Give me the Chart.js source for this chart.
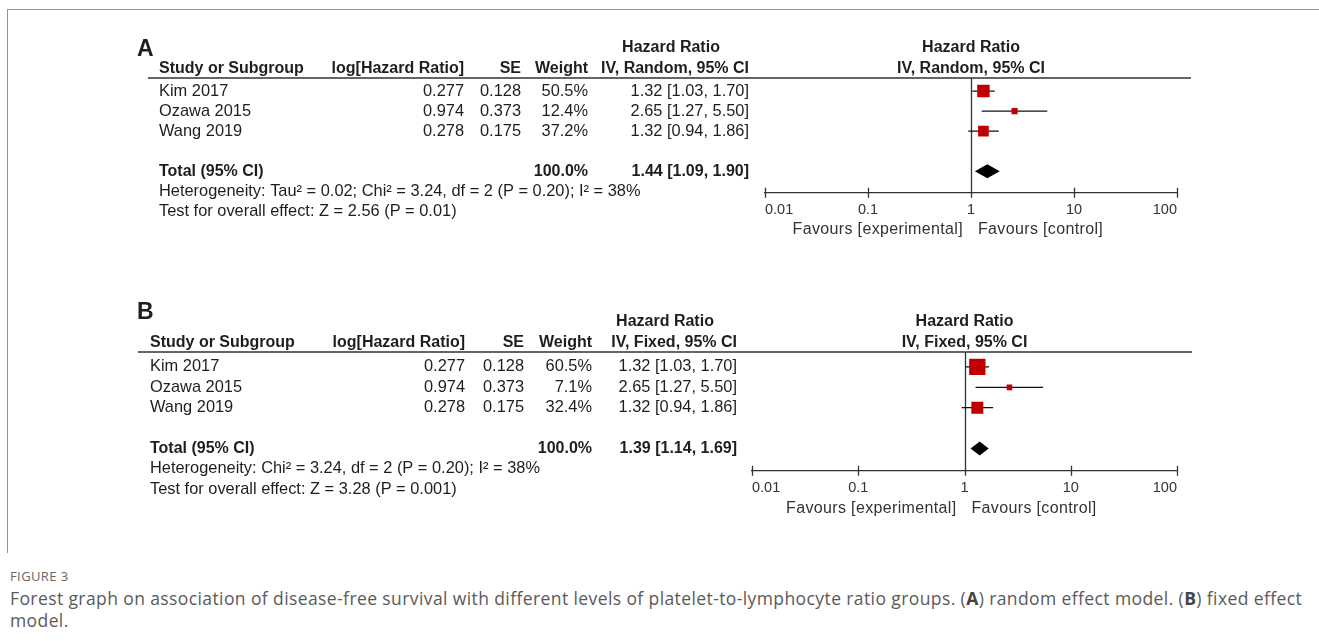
<!DOCTYPE html>
<html>
<head>
<meta charset="utf-8">
<script src="https://cdn.jsdelivr.net/npm/chart.js@4.4.1/dist/chart.umd.min.js"></script>
<style>
    body { margin: 0; background: #fff; width: 1319px; height: 641px; overflow: hidden; position: relative; }
    #frame { position: absolute; left: 7px; top: 9px; width: 1312px; height: 543px; border-left: 1px solid #929292; border-top: 1px solid #929292; }
    canvas { position: absolute; left: 0; }
    #figNo { position: absolute; left: 10px; top: 567px; font: 13px/18px "Open Sans", sans-serif; color: #666; letter-spacing: 0.4px; }
    #caption { position: absolute; left: 10px; top: 587px; font: 17.5px/22px "Open Sans", sans-serif; color: #5a5a5a; letter-spacing: 0.4px; white-space: nowrap; }
    #caption b { font-weight: 700; color: #444; }
</style>
</head>
<body>
<div id="frame"></div>
<canvas id="chartA" width="1319" height="268" style="top:0"></canvas>
<canvas id="chartB" width="1319" height="275" style="top:270px"></canvas>
<div id="figNo">FIGURE 3</div>
<div id="caption">Forest graph on association of disease-free survival with different levels of platelet-to-lymphocyte ratio groups. (<b>A</b>) random effect model. (<b>B</b>) fixed effect<br>model.</div>

<script>
// forest plots, panel A (random) and B (fixed)

const studies = ['Kim 2017', 'Ozawa 2015', 'Wang 2019'];
const logHR = ['0.277', '0.974', '0.278'];
const seValues = ['0.128', '0.373', '0.175'];
const hrEst = [1.32, 2.65, 1.32];
const ciLow = [1.03, 1.27, 0.94];
const ciHigh = [1.70, 5.50, 1.86];

const weightsRandom = [50.5, 12.4, 37.2];
const weightsFixed = [60.5, 7.1, 32.4];

// [estimate, lower, upper]
const totalRandom = [1.44, 1.09, 1.90];
const totalFixed = [1.39, 1.14, 1.69];

const hetRandom = 'Heterogeneity: Tau\u00b2 = 0.02; Chi\u00b2 = 3.24, df = 2 (P = 0.20); I\u00b2 = 38%';
const hetFixed = 'Heterogeneity: Chi\u00b2 = 3.24, df = 2 (P = 0.20); I\u00b2 = 38%';
const testRandom = 'Test for overall effect: Z = 2.56 (P = 0.01)';
const testFixed = 'Test for overall effect: Z = 3.28 (P = 0.001)';

const tickValues = [0.01, 0.1, 1, 10, 100];
const tickLabels = ['0.01', '0.1', '1', '10', '100'];

const FONT = '"Liberation Sans", Arial, sans-serif';
const TEXT = '#1e1e1e';
const LINE = '#333';
const TICK_SIZE = 14.5;
const TICK_PAD = 8.3;
const AXIS_H = TICK_PAD + TICK_SIZE * 1.2;

function ciText(est, lo, hi) {
    return `${est.toFixed(2)} [${lo.toFixed(2)}, ${hi.toFixed(2)}]`;
}

function forestPlugin(p) {
    return {
        id: 'forest' + p.letter,
        beforeDatasetsDraw(chart) {
            const ctx = chart.ctx;
            const xs = chart.scales.x;
            const area = chart.chartArea;
            ctx.save();
            ctx.strokeStyle = LINE;
            ctx.lineWidth = 1.3;
            // header rule
            ctx.beginPath();
            ctx.moveTo(p.ruleLeft, area.top);
            ctx.lineTo(p.ruleRight, area.top);
            // line of no effect
            const x1 = Math.round(xs.getPixelForValue(1)) + 0.5;
            ctx.moveTo(x1, area.top);
            ctx.lineTo(x1, area.bottom);
            // tick marks
            xs.ticks.forEach(t => {
                const tx = Math.round(xs.getPixelForValue(t.value)) + 0.5;
                ctx.moveTo(tx, area.bottom - 5);
                ctx.lineTo(tx, area.bottom + 5);
            });
            ctx.stroke();
            ctx.restore();
        },
        afterDatasetsDraw(chart) {
            const ctx = chart.ctx;
            const xs = chart.scales.x;
            const ys = chart.scales.y;
            const area = chart.chartArea;
            const top = area.top;

            // pooled diamond
            const yc = ys.getPixelForValue(p.totalRow);
            const half = 7;
            ctx.save();
            ctx.fillStyle = '#000';
            ctx.beginPath();
            ctx.moveTo(xs.getPixelForValue(p.total[1]), yc);
            ctx.lineTo(xs.getPixelForValue(p.total[0]), yc - half);
            ctx.lineTo(xs.getPixelForValue(p.total[2]), yc);
            ctx.lineTo(xs.getPixelForValue(p.total[0]), yc + half);
            ctx.closePath();
            ctx.fill();

            const put = (str, x, y, align, font) => {
                ctx.font = font;
                ctx.textAlign = align;
                ctx.fillText(str, x, y);
            };
            const bold = 'bold 16px ' + FONT;
            const reg = '16.4px ' + FONT;
            ctx.fillStyle = TEXT;
            ctx.textBaseline = 'middle';

            put(p.letter, p.letterX, top + p.letterDy, 'left', 'bold 23px ' + FONT);

            // header rows
            const h1 = top - 30, h2 = top - 9;
            const c = p.col;
            put('Hazard Ratio', c.hr, h1, 'center', bold);
            put('Study or Subgroup', c.study, h2, 'left', bold);
            put('log[Hazard Ratio]', c.logHR, h2, 'right', bold);
            put('SE', c.se, h2, 'right', bold);
            put('Weight', c.weight, h2, 'right', bold);
            put(p.method, c.ci, h2, 'right', bold);
            const mid = (area.left + area.right) / 2;
            put('Hazard Ratio', mid, h1, 'center', bold);
            put(p.method, mid, h2, 'center', bold);

            // study rows
            studies.forEach((s, i) => {
                const y = ys.getPixelForValue(p.rows[i]);
                put(s, c.study, y, 'left', reg);
                put(logHR[i], c.logHR, y, 'right', reg);
                put(seValues[i], c.se, y, 'right', reg);
                put(p.weights[i].toFixed(1) + '%', c.weight, y, 'right', reg);
                put(ciText(hrEst[i], ciLow[i], ciHigh[i]), c.ci, y, 'right', reg);
            });

            // total + footnotes
            put('Total (95% CI)', c.study, yc, 'left', bold);
            put('100.0%', c.weight, yc, 'right', bold);
            put(ciText(p.total[0], p.total[1], p.total[2]), c.ci, yc, 'right', bold);
            put(p.het, c.study, ys.getPixelForValue(p.totalRow + 1), 'left', reg);
            put(p.test, c.study, ys.getPixelForValue(p.totalRow + 2), 'left', reg);

            // favours labels
            ctx.fillStyle = '#333';
            ctx.letterSpacing = '0.35px';
            const fy = area.bottom + p.favoursDy;
            put('Favours [experimental]', mid - 8, fy, 'right', '16px ' + FONT);
            put('Favours [control]', mid + 7, fy, 'left', '16px ' + FONT);
            ctx.restore();
        }
    };
}

function makePanel(id, p) {
    const rows = studies.map((s, i) => i + 1);
    p.rows = rows;
    p.totalRow = 5;
    const H = document.getElementById(id).height;
    const yMin = 1 - p.firstRowDy / p.rowPx;
    const yMax = yMin + (p.axisY - p.lineY) / p.rowPx;

    const whiskers = studies.map((s, i) => ({
        type: 'line',
        data: [{ x: ciLow[i], y: rows[i] }, { x: ciHigh[i], y: rows[i] }],
        borderColor: '#111',
        borderWidth: 1.3,
        pointRadius: 0,
        order: 2
    }));

    const boxes = {
        type: 'scatter',
        data: hrEst.map((v, i) => ({ x: v, y: rows[i] })),
        pointStyle: 'rect',
        pointRadius: p.weights.map(w => Math.sqrt(w) * p.boxScale / Math.SQRT2),
        backgroundColor: '#c00000',
        borderWidth: 0,
        order: 1
    };

    return new Chart(document.getElementById(id), {
        type: 'scatter',
        data: { datasets: [boxes, ...whiskers] },
        options: {
            responsive: false,
            animation: false,
            devicePixelRatio: 1,
            layout: {
                padding: { left: p.plotLeft, right: 1319 - p.plotRight, top: p.lineY, bottom: H - p.axisY - AXIS_H }
            },
            plugins: { legend: { display: false }, tooltip: { enabled: false } },
            scales: {
                x: {
                    type: 'logarithmic',
                    min: 0.01,
                    max: 100,
                    afterBuildTicks: scale => {
                        scale.ticks = tickValues.map(v => ({ value: v }));
                    },
                    grid: { display: false, drawTicks: false },
                    border: { display: true, color: LINE, width: 1.3 },
                    ticks: {
                        autoSkip: false,
                        maxRotation: 0,
                        align: 'inner',
                        padding: TICK_PAD,
                        color: '#333',
                        font: { family: FONT, size: TICK_SIZE },
                        callback: (v, i) => tickLabels[i]
                    }
                },
                y: {
                    type: 'linear',
                    display: false,
                    reverse: true,
                    min: yMin,
                    max: yMax
                }
            }
        },
        plugins: [forestPlugin(p)]
    });
}

makePanel('chartA', {
    letter: 'A',
    letterX: 137,
    letterDy: -28,
    method: 'IV, Random, 95% CI',
    weights: weightsRandom,
    total: totalRandom,
    het: hetRandom,
    test: testRandom,
    boxScale: 1.75,
    plotLeft: 765,
    plotRight: 1177,
    lineY: 78,
    axisY: 201,
    firstRowDy: 14,
    rowPx: 21.5,
    favoursDy: 37,
    ruleLeft: 148,
    ruleRight: 1191,
    col: { study: 159, logHR: 464, se: 521, weight: 588, ci: 749, hr: 671 }
});

makePanel('chartB', {
    letter: 'B',
    letterX: 137,
    letterDy: -39,
    method: 'IV, Fixed, 95% CI',
    weights: weightsFixed,
    total: totalFixed,
    het: hetFixed,
    test: testFixed,
    boxScale: 2.1,
    plotLeft: 752,
    plotRight: 1177,
    lineY: 82,
    axisY: 209,
    firstRowDy: 16,
    rowPx: 21.8,
    favoursDy: 38,
    ruleLeft: 138,
    ruleRight: 1192,
    col: { study: 150, logHR: 465, se: 524, weight: 592, ci: 737, hr: 665 }
});
</script>
</body>
</html>
